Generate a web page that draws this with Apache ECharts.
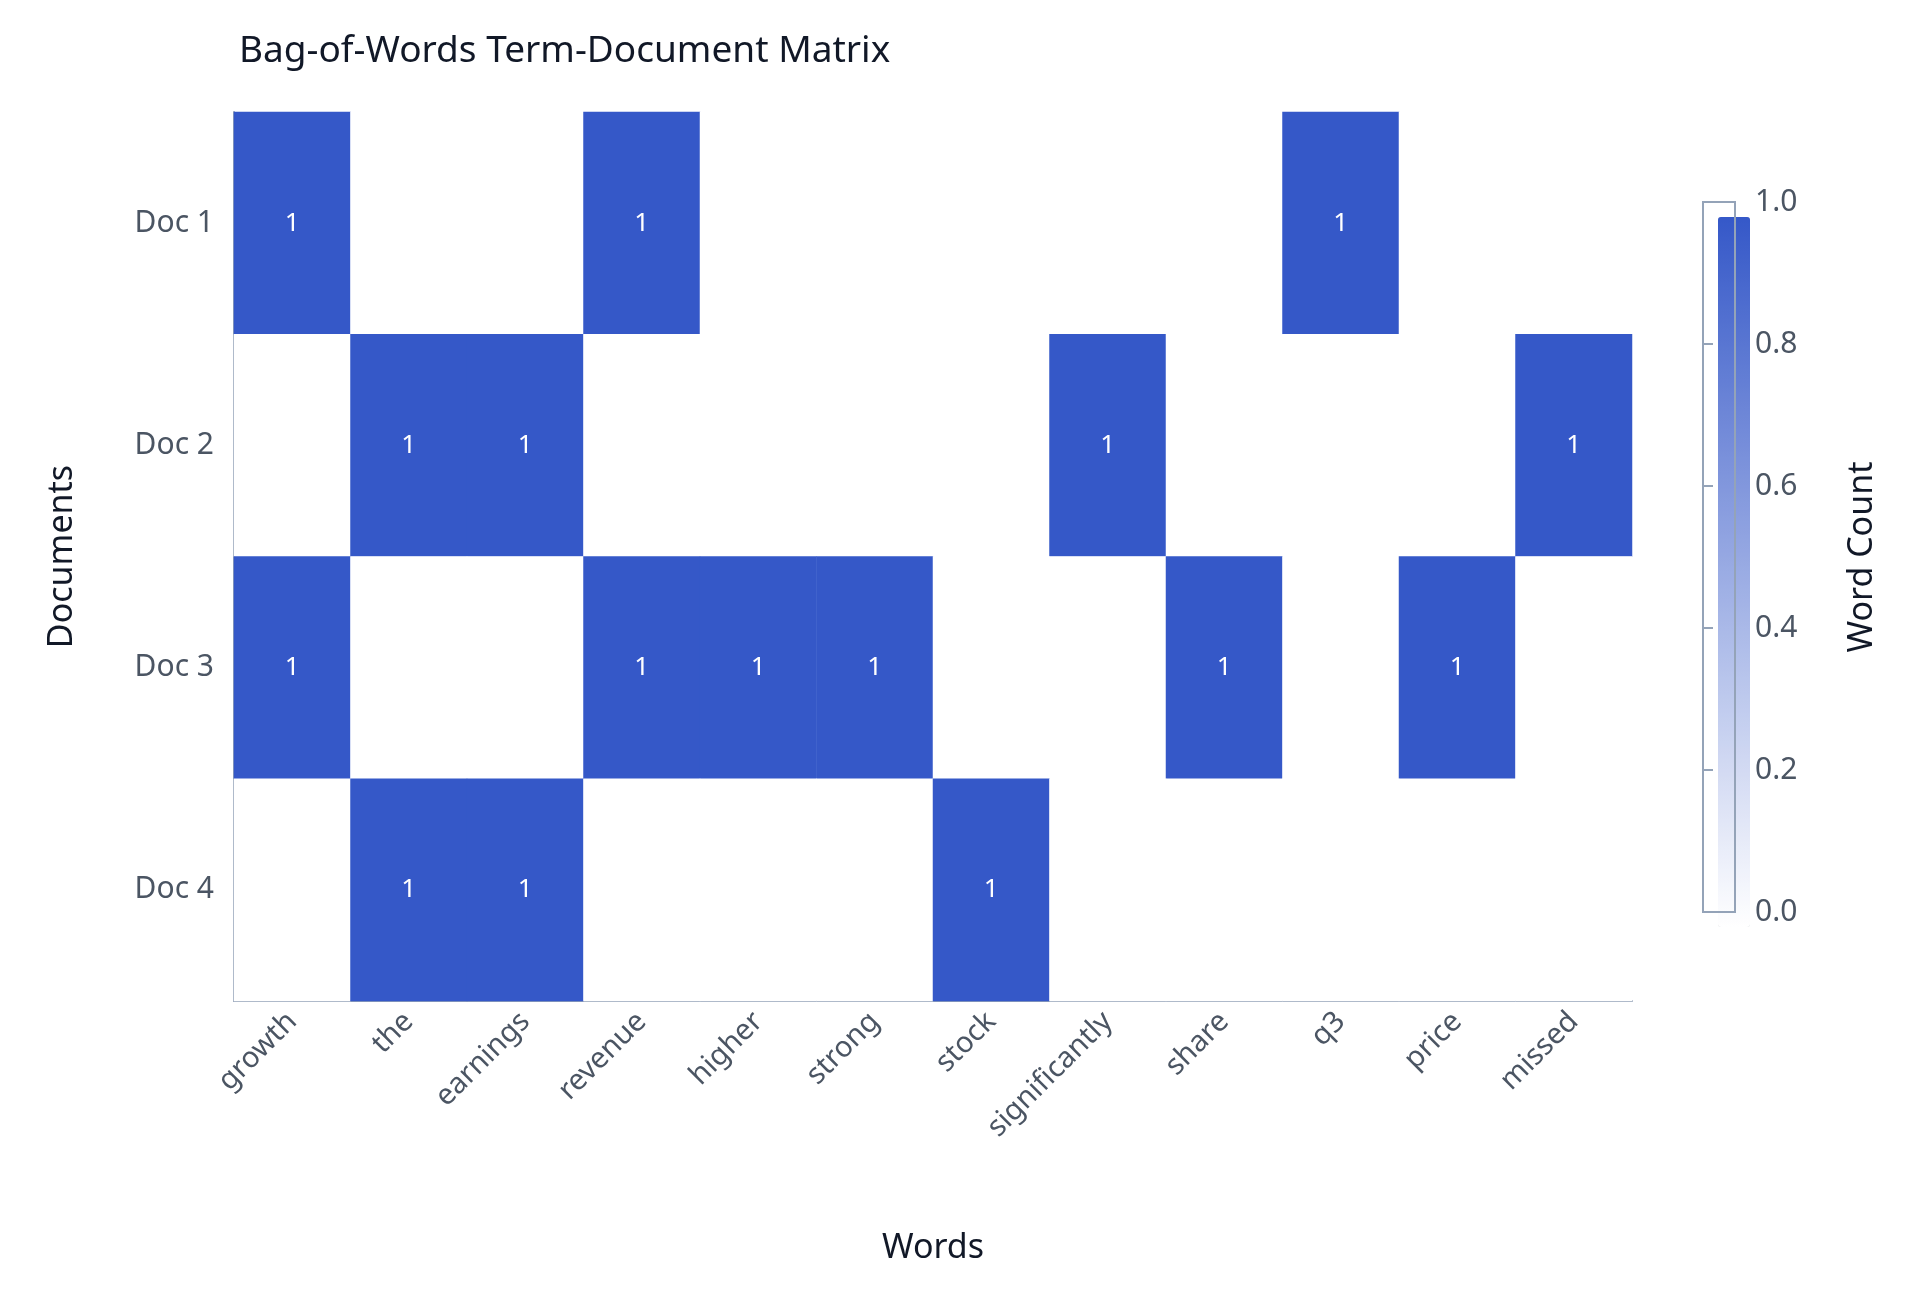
<!DOCTYPE html>
<html><head><meta charset="utf-8">
<script src="https://cdn.jsdelivr.net/npm/echarts@6/dist/echarts.min.js"></script>
<style>html,body{margin:0;padding:0;background:#fff}#c{width:1920px;height:1294px}</style>
</head><body><div id="c"></div>
<script>
const words = ['growth','the','earnings','revenue','higher','strong','stock','significantly','share','q3','price','missed'];
const docs = ['Doc 1','Doc 2','Doc 3','Doc 4'];
const doc1 = [1,0,0,1,0,0,0,0,0,1,0,0];
const doc2 = [0,1,1,0,0,0,0,1,0,0,0,1];
const doc3 = [1,0,0,1,1,1,0,0,1,0,1,0];
const doc4 = [0,1,1,0,0,0,1,0,0,0,0,0];
const cbTicks = [0,0.2,0.4,0.6,0.8,1.0];
const rows = [doc1,doc2,doc3,doc4];
const data = [];
rows.forEach((r,y)=>r.forEach((v,x)=>data.push([x,y,v])));
const font = 'Noto Sans, Noto Sans CJK KR, sans-serif';
const axisCol = '#94a3b8', labCol = '#4b5563';
const chart = echarts.init(document.getElementById('c'));
chart.setOption({
  animation:false,
  title:{text:'Bag-of-Words Term-Document Matrix',left:234,top:28,textStyle:{fontFamily:font,fontSize:37,fontWeight:'normal',color:'#111827'}},
  grid:[{left:234,top:112,width:1398,height:889},
        {left:1703,top:202,width:32,height:710,show:true,borderColor:axisCol,borderWidth:2,backgroundColor:'transparent',z:5}],
  xAxis:[{type:'category',data:words,gridIndex:0,
    axisLine:{lineStyle:{color:axisCol,width:2}},axisTick:{alignWithLabel:true,length:10,lineStyle:{color:axisCol,width:2}},
    axisLabel:{rotate:45,fontSize:29,color:labCol,fontFamily:font,margin:16,interval:0},
    name:'Words',nameLocation:'middle',nameGap:230,nameTextStyle:{fontSize:34,color:'#111827',fontFamily:font}},
    {type:'value',gridIndex:1,show:false,min:0,max:1}],
  yAxis:[{type:'category',data:docs,inverse:true,gridIndex:0,
    axisLine:{lineStyle:{color:axisCol,width:2}},axisTick:{alignWithLabel:true,length:10,lineStyle:{color:axisCol,width:2}},
    axisLabel:{fontSize:30,color:labCol,fontFamily:font,margin:20},
    name:'Documents',nameLocation:'middle',nameGap:155,nameTextStyle:{fontSize:34,color:'#111827',fontFamily:font}},
    {type:'value',gridIndex:1,position:'right',min:0,max:1,interval:0.2,
    axisLine:{show:false},splitLine:{show:false},
    axisTick:{show:true,length:10,lineStyle:{color:axisCol,width:2}},
    axisLabel:{fontSize:30,color:labCol,fontFamily:font,margin:20,formatter:v=>v.toFixed(1)},
    name:'Word Count',nameLocation:'middle',nameRotate:90,nameGap:110,nameTextStyle:{fontSize:34,color:'#111827',fontFamily:font}}],
  visualMap:{type:'continuous',min:0,max:1,show:true,calculable:false,left:1703,top:202,itemWidth:32,itemHeight:710,
    text:['',''],showLabel:false,seriesIndex:0,inRange:{color:['#ffffff','#3558c8']},textStyle:{color:'transparent'}},
  series:[{type:'heatmap',data:data,xAxisIndex:0,yAxisIndex:0,
    label:{show:true,color:'#ffffff',fontSize:26,fontFamily:font,formatter:p=>p.value[2]?String(p.value[2]):''},
    itemStyle:{borderWidth:0}}]
});
</script></body></html>
